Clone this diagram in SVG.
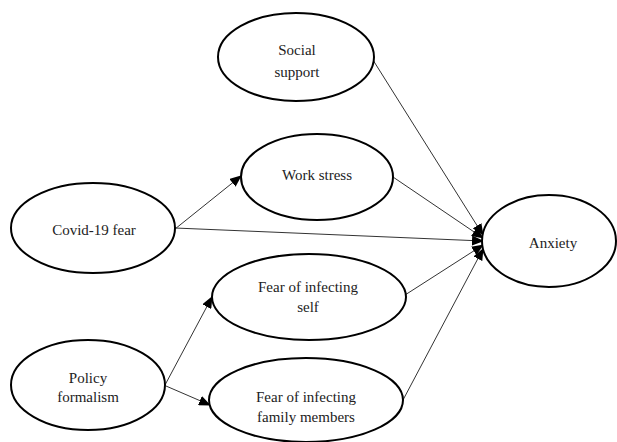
<svg xmlns="http://www.w3.org/2000/svg" width="617" height="442" viewBox="0 0 617 442">
<style>
.n{fill:#fff;stroke:#000;stroke-width:2}
.t{font-family:'Liberation Serif','Times New Roman',serif;font-size:15px;fill:#222;text-anchor:middle}
.c{stroke:#333;stroke-width:1;fill:none;marker-end:url(#a)}
</style>
<defs>
<marker id="a" markerUnits="userSpaceOnUse" markerWidth="12" markerHeight="10" refX="11" refY="5" orient="auto">
<path d="M0,0 L12,5 L0,10 Z" fill="#000"/>
</marker>
</defs>
<rect width="617" height="442" fill="#fff"/>
<g id="connectors">
<line class="c" x1="175" y1="229" x2="241" y2="176"/>
<line class="c" x1="175" y1="228" x2="483" y2="241"/>
<line class="c" x1="373" y1="60" x2="483" y2="235"/>
<line class="c" x1="393" y1="177" x2="483" y2="238"/>
<line class="c" x1="405" y1="295" x2="483" y2="245"/>
<line class="c" x1="403" y1="400" x2="483" y2="249"/>
<line class="c" x1="165" y1="385" x2="212" y2="297"/>
<line class="c" x1="166" y1="386" x2="210" y2="405"/>
</g>
<g id="social-support">
<ellipse class="n" cx="296" cy="57" rx="78" ry="44"/>
<text class="t" x="297" y="55">Social</text>
<text class="t" x="297" y="77">support</text>
</g>
<g id="work-stress">
<ellipse class="n" cx="317" cy="177" rx="76" ry="43"/>
<text class="t" x="317" y="180">Work stress</text>
</g>
<g id="covid-fear">
<ellipse class="n" cx="93" cy="228" rx="82" ry="45"/>
<text class="t" x="94" y="235">Covid-19 fear</text>
</g>
<g id="anxiety">
<ellipse class="n" cx="549" cy="241" rx="67" ry="46"/>
<text class="t" x="553" y="248">Anxiety</text>
</g>
<g id="fear-self">
<ellipse class="n" cx="309" cy="297" rx="97" ry="43"/>
<text class="t" x="308" y="292">Fear of infecting</text>
<text class="t" x="308" y="312">self</text>
</g>
<g id="policy-formalism">
<ellipse class="n" cx="88" cy="385" rx="77" ry="45"/>
<text class="t" x="88" y="383">Policy</text>
<text class="t" x="88" y="402">formalism</text>
</g>
<g id="fear-family">
<ellipse class="n" cx="306" cy="400" rx="97" ry="42"/>
<text class="t" x="306" y="402">Fear of infecting</text>
<text class="t" x="306" y="422">family members</text>
</g>
</svg>
